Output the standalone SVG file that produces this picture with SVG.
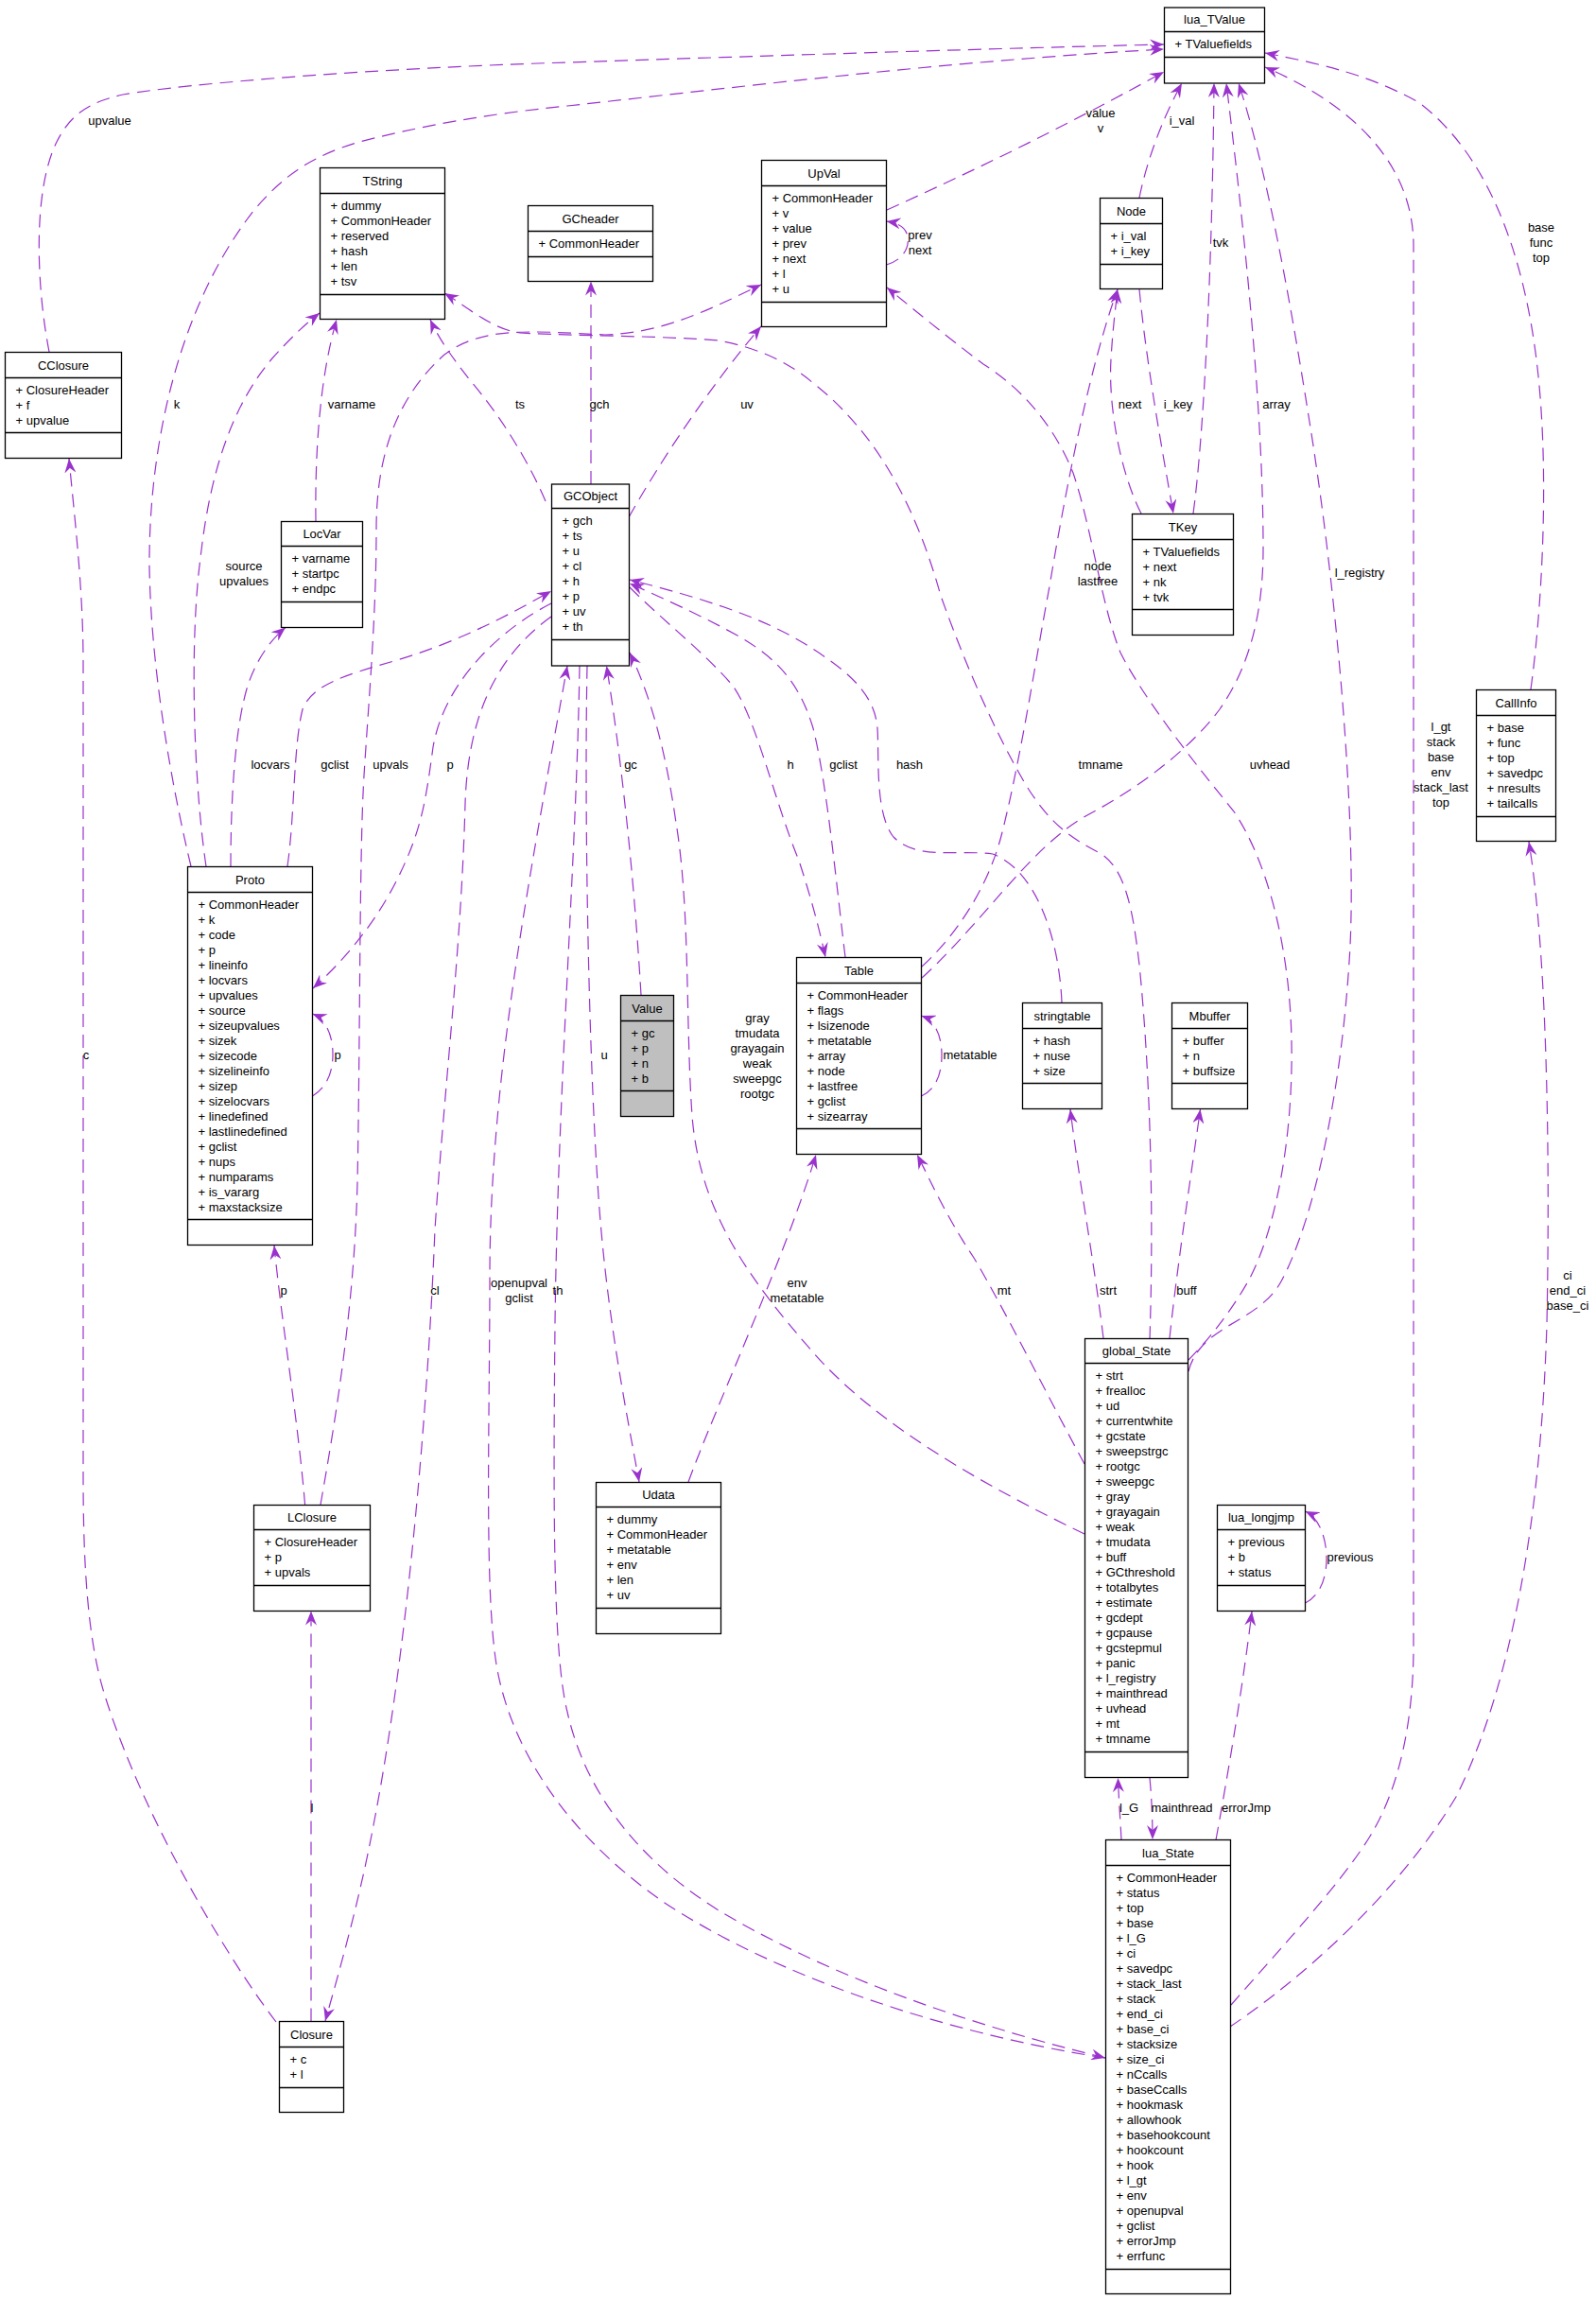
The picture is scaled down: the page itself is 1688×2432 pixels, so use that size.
<svg xmlns="http://www.w3.org/2000/svg" width="1688" height="2432" viewBox="0 0 1688 2432">
<style>
text{font-family:"Liberation Sans",Arial,Helvetica,sans-serif;font-size:13px;fill:#000}
.t,.l{text-anchor:middle}
.n rect{fill:#fff;stroke:#000;stroke-width:1.3}
.n line{stroke:#000;stroke-width:1.3}
.e path{fill:none;stroke:#9a32cd;stroke-width:1.2;stroke-dasharray:14,8;marker-end:url(#a)}
</style>
<defs>
<marker id="a" markerUnits="userSpaceOnUse" markerWidth="16" markerHeight="12" refX="15" refY="6" orient="auto" viewBox="0 0 16 12">
<path d="M0,0 L15,6 L0,12 L5,6 z" fill="#9a32cd"/>
</marker>
</defs>
<rect width="1688" height="2432" fill="#fff"/>

<g id="edges" class="e">
<path d="M52,372 C38,300 35,200 60,150 C75,120 95,108 130,100 C200,88 400,72 600,66 C900,56 1100,50 1231,47"/>
<path d="M202,916 C186,850 160,720 158,600 C157,480 185,330 268,223 C300,185 330,165 380,150 C450,132 520,120 600,112 C800,90 1000,65 1231,52"/>
<path d="M938,222 C1000,194 1100,148 1231,76"/>
<path d="M1205,209 C1215,160 1235,115 1250,88"/>
<path d="M1262,543 C1272,470 1282,300 1284,88"/>
<path d="M975,1034 C1040,975 1090,895 1150,862 C1210,830 1260,790 1290,750 C1325,700 1336,640 1336,580 C1336,440 1318,260 1297,88"/>
<path d="M1257,1450 C1270,1400 1330,1400 1355,1355 C1390,1290 1420,1150 1428,1000 C1435,850 1410,600 1385,446 C1365,320 1340,180 1310,88"/>
<path d="M1302,2120 C1350,2065 1420,1990 1450,1940 C1480,1890 1495,1820 1495,1740 L1495,260 C1495,180 1440,115 1338,71"/>
<path d="M1619,729 C1630,650 1640,500 1625,380 C1610,260 1570,160 1500,108 C1450,80 1400,68 1338,56"/>
<path d="M334,551 C333,480 338,400 356,338"/>
<path d="M218,916 C205,830 200,680 212,590 C222,500 245,430 287,380 C305,360 320,345 338,331"/>
<path d="M577,530 C560,490 530,440 497,402 C480,380 465,360 455,338"/>
<path d="M1216,1416 C1220,1300 1218,1150 1205,1020 C1198,960 1190,920 1165,903 C1130,885 1110,870 1085,830 C1050,770 1020,700 995,630 C970,540 930,460 860,405 C830,380 800,368 760,360 C700,355 600,355 550,352 C520,348 495,325 470,310"/>
<path d="M1257,1438 C1275,1420 1300,1390 1320,1355 C1350,1300 1368,1200 1366,1100 C1364,1000 1340,910 1305,858 C1270,815 1210,740 1185,690 C1165,640 1155,560 1135,500 C1115,450 1080,410 1040,385 C1000,355 970,330 938,304"/>
<path d="M975,1022 C1010,990 1045,940 1060,880 C1080,800 1095,700 1110,620 C1130,500 1155,380 1182,306"/>
<path d="M1207,543 C1185,500 1172,430 1175,380 C1177,345 1180,325 1182,306"/>
<path d="M1205,306 C1212,380 1228,470 1241,543"/>
<path d="M625,512 L625,297.5"/>
<path d="M665,547 C700,485 750,410 805,345"/>
<path d="M937.5,280 C955,275 962,262 960,250 C958,240 950,236 937.5,234"/>
<path d="M292,2138 C240,2070 150,1920 110,1790 C92,1730 88,1650 88,1560 L88,700 C88,620 78,540 73,485"/>
<path d="M329,2137.5 L329,1703.5"/>
<path d="M322.6,1591.5 C315,1500 298,1400 290,1317"/>
<path d="M339,1591 C355,1500 375,1380 378,1250 C381,1100 380,900 385,820 C390,740 398,650 398,560 C398,480 420,420 470,375 C510,345 560,350 640,354 C700,352 745,330 805,301"/>
<path d="M583,638 C530,665 470,720 458,790 C450,850 445,880 420,930 C400,970 370,1010 331,1045"/>
<path d="M583,652 C530,690 495,750 492,850 C488,1000 470,1150 460,1300 C452,1500 430,1750 395,1930 C380,2010 360,2080 344,2137"/>
<path d="M304,916 C312,860 310,790 320,750 C330,725 360,715 420,698 C480,680 530,655 583,625"/>
<path d="M244,916 C244,850 248,770 262,725 C272,695 288,675 302,663.5"/>
<path d="M330.5,1159 C345,1150 352,1135 352,1115 C352,1095 345,1078 330.5,1072"/>
<path d="M678,1052 C672,950 660,820 641.5,704"/>
<path d="M621,704 C618,850 622,1100 632,1250 C640,1380 660,1480 676,1567"/>
<path d="M613,704 C610,900 590,1150 587,1400 C585,1600 585,1750 600,1810 C620,1900 680,1970 760,2020 C860,2080 1000,2135 1169,2176"/>
<path d="M1169,2176 C1000,2150 820,2090 700,2010 C600,1940 540,1850 525,1760 C512,1680 518,1500 518,1350 C518,1200 540,1050 560,930 C575,840 590,760 600,704"/>
<path d="M666,621 C700,655 745,690 775,725 C800,760 820,850 845,910 C858,950 866,980 873,1012"/>
<path d="M894,1012 C885,940 875,830 860,770 C845,720 820,695 780,672 C740,650 700,632 666,617"/>
<path d="M1123,1060 C1120,990 1095,920 1050,903 C1010,898 970,910 945,885 C925,860 930,800 928,770 C925,730 890,705 850,680 C800,650 740,632 666,613"/>
<path d="M1147,1622 C1050,1575 930,1510 860,1430 C790,1350 740,1280 732,1180 C725,1080 730,960 715,870 C705,800 690,740 666,690"/>
<path d="M728,1567 C760,1480 830,1330 863,1221"/>
<path d="M1147,1548 C1110,1480 1060,1380 1030,1330 C1000,1285 985,1250 970,1221"/>
<path d="M974.5,1159 C990,1152 996,1135 996,1116 C996,1096 990,1080 974.5,1074"/>
<path d="M1167,1415 C1158,1340 1140,1240 1132,1173"/>
<path d="M1237,1415 C1245,1340 1260,1240 1269.5,1173"/>
<path d="M1216,1880 C1218,1900 1219,1925 1219,1945"/>
<path d="M1186,1945.5 C1185,1925 1183,1900 1182.5,1880"/>
<path d="M1286,1945.5 C1298,1880 1315,1780 1324,1704"/>
<path d="M1380.5,1695 C1395,1688 1403,1670 1403,1648 C1403,1626 1395,1605 1380.5,1598"/>
<path d="M1301,2143 C1380,2090 1480,2000 1540,1900 C1600,1780 1630,1600 1636,1400 C1640,1200 1635,1000 1617,890"/>
</g>

<g id="labels">
<text class="l" x="116" y="132">upvalue</text>
<text class="l" x="187" y="432">k</text>
<text class="l" x="372" y="432">varname</text>
<text class="l" x="550" y="432">ts</text>
<text class="l" x="634" y="432">gch</text>
<text class="l" x="790" y="432">uv</text>
<text class="l" x="973" y="253">prev</text>
<text class="l" x="973" y="269">next</text>
<text class="l" x="1164" y="124">value</text>
<text class="l" x="1164" y="140">v</text>
<text class="l" x="1250" y="132">i_val</text>
<text class="l" x="1291" y="261">tvk</text>
<text class="l" x="1630" y="245">base</text>
<text class="l" x="1630" y="261">func</text>
<text class="l" x="1630" y="277">top</text>
<text class="l" x="1195" y="432">next</text>
<text class="l" x="1246" y="432">i_key</text>
<text class="l" x="1350" y="432">array</text>
<text class="l" x="1438" y="610">l_registry</text>
<text class="l" x="1161" y="603">node</text>
<text class="l" x="1161" y="619">lastfree</text>
<text class="l" x="258" y="603">source</text>
<text class="l" x="258" y="619">upvalues</text>
<text class="l" x="286" y="813">locvars</text>
<text class="l" x="354" y="813">gclist</text>
<text class="l" x="413" y="813">upvals</text>
<text class="l" x="476" y="813">p</text>
<text class="l" x="667" y="813">gc</text>
<text class="l" x="836" y="813">h</text>
<text class="l" x="892" y="813">gclist</text>
<text class="l" x="962" y="813">hash</text>
<text class="l" x="1164" y="813">tmname</text>
<text class="l" x="1343" y="813">uvhead</text>
<text class="l" x="1524" y="773">l_gt</text>
<text class="l" x="1524" y="789">stack</text>
<text class="l" x="1524" y="805">base</text>
<text class="l" x="1524" y="821">env</text>
<text class="l" x="1524" y="837">stack_last</text>
<text class="l" x="1524" y="853">top</text>
<text class="l" x="91" y="1120">c</text>
<text class="l" x="357" y="1120">p</text>
<text class="l" x="639" y="1120">u</text>
<text class="l" x="801" y="1081">gray</text>
<text class="l" x="801" y="1097">tmudata</text>
<text class="l" x="801" y="1113">grayagain</text>
<text class="l" x="801" y="1129">weak</text>
<text class="l" x="801" y="1145">sweepgc</text>
<text class="l" x="801" y="1161">rootgc</text>
<text class="l" x="1026" y="1120">metatable</text>
<text class="l" x="300" y="1369">p</text>
<text class="l" x="460" y="1369">cl</text>
<text class="l" x="549" y="1361">openupval</text>
<text class="l" x="549" y="1377">gclist</text>
<text class="l" x="590" y="1369">th</text>
<text class="l" x="843" y="1361">env</text>
<text class="l" x="843" y="1377">metatable</text>
<text class="l" x="1062" y="1369">mt</text>
<text class="l" x="1172" y="1369">strt</text>
<text class="l" x="1255" y="1369">buff</text>
<text class="l" x="1658" y="1353">ci</text>
<text class="l" x="1658" y="1369">end_ci</text>
<text class="l" x="1658" y="1385">base_ci</text>
<text class="l" x="1428" y="1651">previous</text>
<text class="l" x="330" y="1916">l</text>
<text class="l" x="1194" y="1916">l_G</text>
<text class="l" x="1250" y="1916">mainthread</text>
<text class="l" x="1318" y="1916">errorJmp</text>
</g>

<g id="lua_TValue" class="n"><rect x="1231.5" y="8" width="106" height="80"/><line x1="1231.5" y1="33.5" x2="1337.5" y2="33.5"/><line x1="1231.5" y1="60.5" x2="1337.5" y2="60.5"/><text class="t" x="1284.5" y="25.3">lua_TValue</text><text x="1242.5" y="50.5">+ TValuefields</text></g>

<g id="TString" class="n"><rect x="338.5" y="177.5" width="132" height="160"/><line x1="338.5" y1="204.5" x2="470.5" y2="204.5"/><line x1="338.5" y1="311.5" x2="470.5" y2="311.5"/><text class="t" x="404.5" y="195.5">TString</text><text x="349.5" y="221.5"><tspan x="349.5">+ dummy</tspan><tspan x="349.5" dy="16">+ CommonHeader</tspan><tspan x="349.5" dy="16">+ reserved</tspan><tspan x="349.5" dy="16">+ hash</tspan><tspan x="349.5" dy="16">+ len</tspan><tspan x="349.5" dy="16">+ tsv</tspan></text></g>

<g id="GCheader" class="n"><rect x="558.5" y="217.5" width="132" height="80"/><line x1="558.5" y1="244.5" x2="690.5" y2="244.5"/><line x1="558.5" y1="271.5" x2="690.5" y2="271.5"/><text class="t" x="624.5" y="235.5">GCheader</text><text x="569.5" y="261.5">+ CommonHeader</text></g>

<g id="UpVal" class="n"><rect x="805.5" y="169.5" width="132" height="176"/><line x1="805.5" y1="196.5" x2="937.5" y2="196.5"/><line x1="805.5" y1="319.5" x2="937.5" y2="319.5"/><text class="t" x="871.5" y="187.5">UpVal</text><text x="816.5" y="213.5"><tspan x="816.5">+ CommonHeader</tspan><tspan x="816.5" dy="16">+ v</tspan><tspan x="816.5" dy="16">+ value</tspan><tspan x="816.5" dy="16">+ prev</tspan><tspan x="816.5" dy="16">+ next</tspan><tspan x="816.5" dy="16">+ l</tspan><tspan x="816.5" dy="16">+ u</tspan></text></g>

<g id="Node" class="n"><rect x="1163.5" y="209.5" width="66" height="96"/><line x1="1163.5" y1="236.5" x2="1229.5" y2="236.5"/><line x1="1163.5" y1="279.5" x2="1229.5" y2="279.5"/><text class="t" x="1196.5" y="227.5">Node</text><text x="1174.5" y="253.5"><tspan x="1174.5">+ i_val</tspan><tspan x="1174.5" dy="16">+ i_key</tspan></text></g>

<g id="CClosure" class="n"><rect x="5.5" y="372.5" width="123" height="112"/><line x1="5.5" y1="399.5" x2="128.5" y2="399.5"/><line x1="5.5" y1="457.5" x2="128.5" y2="457.5"/><text class="t" x="67" y="390.5">CClosure</text><text x="16.5" y="416.5"><tspan x="16.5">+ ClosureHeader</tspan><tspan x="16.5" dy="16">+ f</tspan><tspan x="16.5" dy="16">+ upvalue</tspan></text></g>

<g id="LocVar" class="n"><rect x="297.5" y="551.5" width="86" height="112"/><line x1="297.5" y1="577.5" x2="383.5" y2="577.5"/><line x1="297.5" y1="636.5" x2="383.5" y2="636.5"/><text class="t" x="340.5" y="569">LocVar</text><text x="308.5" y="594.5"><tspan x="308.5">+ varname</tspan><tspan x="308.5" dy="16">+ startpc</tspan><tspan x="308.5" dy="16">+ endpc</tspan></text></g>

<g id="GCObject" class="n"><rect x="583.5" y="512" width="82" height="192"/><line x1="583.5" y1="537.5" x2="665.5" y2="537.5"/><line x1="583.5" y1="676.5" x2="665.5" y2="676.5"/><text class="t" x="624.5" y="529.3">GCObject</text><text x="594.5" y="554.5"><tspan x="594.5">+ gch</tspan><tspan x="594.5" dy="16">+ ts</tspan><tspan x="594.5" dy="16">+ u</tspan><tspan x="594.5" dy="16">+ cl</tspan><tspan x="594.5" dy="16">+ h</tspan><tspan x="594.5" dy="16">+ p</tspan><tspan x="594.5" dy="16">+ uv</tspan><tspan x="594.5" dy="16">+ th</tspan></text></g>

<g id="TKey" class="n"><rect x="1197.5" y="543.5" width="107" height="128"/><line x1="1197.5" y1="570.5" x2="1304.5" y2="570.5"/><line x1="1197.5" y1="644.5" x2="1304.5" y2="644.5"/><text class="t" x="1251" y="561.5">TKey</text><text x="1208.5" y="587.5"><tspan x="1208.5">+ TValuefields</tspan><tspan x="1208.5" dy="16">+ next</tspan><tspan x="1208.5" dy="16">+ nk</tspan><tspan x="1208.5" dy="16">+ tvk</tspan></text></g>

<g id="CallInfo" class="n"><rect x="1561.5" y="729.5" width="84" height="160"/><line x1="1561.5" y1="756.5" x2="1645.5" y2="756.5"/><line x1="1561.5" y1="863.5" x2="1645.5" y2="863.5"/><text class="t" x="1603.5" y="747.5">CallInfo</text><text x="1572.5" y="773.5"><tspan x="1572.5">+ base</tspan><tspan x="1572.5" dy="16">+ func</tspan><tspan x="1572.5" dy="16">+ top</tspan><tspan x="1572.5" dy="16">+ savedpc</tspan><tspan x="1572.5" dy="16">+ nresults</tspan><tspan x="1572.5" dy="16">+ tailcalls</tspan></text></g>

<g id="Proto" class="n"><rect x="198.5" y="916.5" width="132" height="400"/><line x1="198.5" y1="943.5" x2="330.5" y2="943.5"/><line x1="198.5" y1="1289.5" x2="330.5" y2="1289.5"/><text class="t" x="264.5" y="934.5">Proto</text><text x="209.5" y="960.5"><tspan x="209.5">+ CommonHeader</tspan><tspan x="209.5" dy="16">+ k</tspan><tspan x="209.5" dy="16">+ code</tspan><tspan x="209.5" dy="16">+ p</tspan><tspan x="209.5" dy="16">+ lineinfo</tspan><tspan x="209.5" dy="16">+ locvars</tspan><tspan x="209.5" dy="16">+ upvalues</tspan><tspan x="209.5" dy="16">+ source</tspan><tspan x="209.5" dy="16">+ sizeupvalues</tspan><tspan x="209.5" dy="16">+ sizek</tspan><tspan x="209.5" dy="16">+ sizecode</tspan><tspan x="209.5" dy="16">+ sizelineinfo</tspan><tspan x="209.5" dy="16">+ sizep</tspan><tspan x="209.5" dy="16">+ sizelocvars</tspan><tspan x="209.5" dy="16">+ linedefined</tspan><tspan x="209.5" dy="16">+ lastlinedefined</tspan><tspan x="209.5" dy="16">+ gclist</tspan><tspan x="209.5" dy="16">+ nups</tspan><tspan x="209.5" dy="16">+ numparams</tspan><tspan x="209.5" dy="16">+ is_vararg</tspan><tspan x="209.5" dy="16">+ maxstacksize</tspan></text></g>

<g id="Value" class="n"><rect x="656.5" y="1052.5" width="56" height="128" style="fill:#bfbfbf"/><line x1="656.5" y1="1079.5" x2="712.5" y2="1079.5"/><line x1="656.5" y1="1153.5" x2="712.5" y2="1153.5"/><text class="t" x="684.5" y="1070.5">Value</text><text x="667.5" y="1096.5"><tspan x="667.5">+ gc</tspan><tspan x="667.5" dy="16">+ p</tspan><tspan x="667.5" dy="16">+ n</tspan><tspan x="667.5" dy="16">+ b</tspan></text></g>

<g id="Table" class="n"><rect x="842.5" y="1012.5" width="132" height="208"/><line x1="842.5" y1="1039.5" x2="974.5" y2="1039.5"/><line x1="842.5" y1="1193.5" x2="974.5" y2="1193.5"/><text class="t" x="908.5" y="1030.5">Table</text><text x="853.5" y="1056.5"><tspan x="853.5">+ CommonHeader</tspan><tspan x="853.5" dy="16">+ flags</tspan><tspan x="853.5" dy="16">+ lsizenode</tspan><tspan x="853.5" dy="16">+ metatable</tspan><tspan x="853.5" dy="16">+ array</tspan><tspan x="853.5" dy="16">+ node</tspan><tspan x="853.5" dy="16">+ lastfree</tspan><tspan x="853.5" dy="16">+ gclist</tspan><tspan x="853.5" dy="16">+ sizearray</tspan></text></g>

<g id="stringtable" class="n"><rect x="1081.5" y="1060.5" width="84" height="112"/><line x1="1081.5" y1="1087.5" x2="1165.5" y2="1087.5"/><line x1="1081.5" y1="1145.5" x2="1165.5" y2="1145.5"/><text class="t" x="1123.5" y="1078.5">stringtable</text><text x="1092.5" y="1104.5"><tspan x="1092.5">+ hash</tspan><tspan x="1092.5" dy="16">+ nuse</tspan><tspan x="1092.5" dy="16">+ size</tspan></text></g>

<g id="Mbuffer" class="n"><rect x="1239.5" y="1060.5" width="80" height="112"/><line x1="1239.5" y1="1087.5" x2="1319.5" y2="1087.5"/><line x1="1239.5" y1="1145.5" x2="1319.5" y2="1145.5"/><text class="t" x="1279.5" y="1078.5">Mbuffer</text><text x="1250.5" y="1104.5"><tspan x="1250.5">+ buffer</tspan><tspan x="1250.5" dy="16">+ n</tspan><tspan x="1250.5" dy="16">+ buffsize</tspan></text></g>

<g id="global_State" class="n"><rect x="1147.5" y="1415.5" width="109" height="464"/><line x1="1147.5" y1="1441.5" x2="1256.5" y2="1441.5"/><line x1="1147.5" y1="1852.5" x2="1256.5" y2="1852.5"/><text class="t" x="1202" y="1433">global_State</text><text x="1158.5" y="1458.5"><tspan x="1158.5">+ strt</tspan><tspan x="1158.5" dy="16">+ frealloc</tspan><tspan x="1158.5" dy="16">+ ud</tspan><tspan x="1158.5" dy="16">+ currentwhite</tspan><tspan x="1158.5" dy="16">+ gcstate</tspan><tspan x="1158.5" dy="16">+ sweepstrgc</tspan><tspan x="1158.5" dy="16">+ rootgc</tspan><tspan x="1158.5" dy="16">+ sweepgc</tspan><tspan x="1158.5" dy="16">+ gray</tspan><tspan x="1158.5" dy="16">+ grayagain</tspan><tspan x="1158.5" dy="16">+ weak</tspan><tspan x="1158.5" dy="16">+ tmudata</tspan><tspan x="1158.5" dy="16">+ buff</tspan><tspan x="1158.5" dy="16">+ GCthreshold</tspan><tspan x="1158.5" dy="16">+ totalbytes</tspan><tspan x="1158.5" dy="16">+ estimate</tspan><tspan x="1158.5" dy="16">+ gcdept</tspan><tspan x="1158.5" dy="16">+ gcpause</tspan><tspan x="1158.5" dy="16">+ gcstepmul</tspan><tspan x="1158.5" dy="16">+ panic</tspan><tspan x="1158.5" dy="16">+ l_registry</tspan><tspan x="1158.5" dy="16">+ mainthread</tspan><tspan x="1158.5" dy="16">+ uvhead</tspan><tspan x="1158.5" dy="16">+ mt</tspan><tspan x="1158.5" dy="16">+ tmname</tspan></text></g>

<g id="Udata" class="n"><rect x="630.5" y="1567.5" width="132" height="160"/><line x1="630.5" y1="1593.5" x2="762.5" y2="1593.5"/><line x1="630.5" y1="1700.5" x2="762.5" y2="1700.5"/><text class="t" x="696.5" y="1585">Udata</text><text x="641.5" y="1610.5"><tspan x="641.5">+ dummy</tspan><tspan x="641.5" dy="16">+ CommonHeader</tspan><tspan x="641.5" dy="16">+ metatable</tspan><tspan x="641.5" dy="16">+ env</tspan><tspan x="641.5" dy="16">+ len</tspan><tspan x="641.5" dy="16">+ uv</tspan></text></g>

<g id="LClosure" class="n"><rect x="268.5" y="1591.5" width="123" height="112"/><line x1="268.5" y1="1617.5" x2="391.5" y2="1617.5"/><line x1="268.5" y1="1676.5" x2="391.5" y2="1676.5"/><text class="t" x="330" y="1609">LClosure</text><text x="279.5" y="1634.5"><tspan x="279.5">+ ClosureHeader</tspan><tspan x="279.5" dy="16">+ p</tspan><tspan x="279.5" dy="16">+ upvals</tspan></text></g>

<g id="lua_longjmp" class="n"><rect x="1287.5" y="1591.5" width="93" height="112"/><line x1="1287.5" y1="1617.5" x2="1380.5" y2="1617.5"/><line x1="1287.5" y1="1676.5" x2="1380.5" y2="1676.5"/><text class="t" x="1334" y="1609">lua_longjmp</text><text x="1298.5" y="1634.5"><tspan x="1298.5">+ previous</tspan><tspan x="1298.5" dy="16">+ b</tspan><tspan x="1298.5" dy="16">+ status</tspan></text></g>

<g id="lua_State" class="n"><rect x="1169.5" y="1945.5" width="132" height="480"/><line x1="1169.5" y1="1972.5" x2="1301.5" y2="1972.5"/><line x1="1169.5" y1="2399.5" x2="1301.5" y2="2399.5"/><text class="t" x="1235.5" y="1963.5">lua_State</text><text x="1180.5" y="1989.5"><tspan x="1180.5">+ CommonHeader</tspan><tspan x="1180.5" dy="16">+ status</tspan><tspan x="1180.5" dy="16">+ top</tspan><tspan x="1180.5" dy="16">+ base</tspan><tspan x="1180.5" dy="16">+ l_G</tspan><tspan x="1180.5" dy="16">+ ci</tspan><tspan x="1180.5" dy="16">+ savedpc</tspan><tspan x="1180.5" dy="16">+ stack_last</tspan><tspan x="1180.5" dy="16">+ stack</tspan><tspan x="1180.5" dy="16">+ end_ci</tspan><tspan x="1180.5" dy="16">+ base_ci</tspan><tspan x="1180.5" dy="16">+ stacksize</tspan><tspan x="1180.5" dy="16">+ size_ci</tspan><tspan x="1180.5" dy="16">+ nCcalls</tspan><tspan x="1180.5" dy="16">+ baseCcalls</tspan><tspan x="1180.5" dy="16">+ hookmask</tspan><tspan x="1180.5" dy="16">+ allowhook</tspan><tspan x="1180.5" dy="16">+ basehookcount</tspan><tspan x="1180.5" dy="16">+ hookcount</tspan><tspan x="1180.5" dy="16">+ hook</tspan><tspan x="1180.5" dy="16">+ l_gt</tspan><tspan x="1180.5" dy="16">+ env</tspan><tspan x="1180.5" dy="16">+ openupval</tspan><tspan x="1180.5" dy="16">+ gclist</tspan><tspan x="1180.5" dy="16">+ errorJmp</tspan><tspan x="1180.5" dy="16">+ errfunc</tspan></text></g>

<g id="Closure" class="n"><rect x="295.5" y="2137.5" width="68" height="96"/><line x1="295.5" y1="2164.5" x2="363.5" y2="2164.5"/><line x1="295.5" y1="2207.5" x2="363.5" y2="2207.5"/><text class="t" x="329.5" y="2155.5">Closure</text><text x="306.5" y="2181.5"><tspan x="306.5">+ c</tspan><tspan x="306.5" dy="16">+ l</tspan></text></g>
</svg>
